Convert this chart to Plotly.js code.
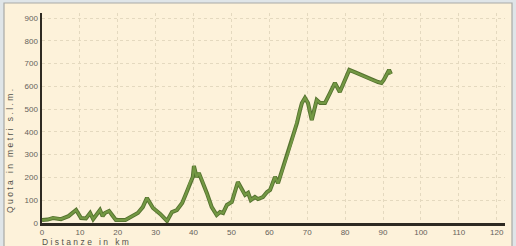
<!DOCTYPE html>
<html><head><meta charset="utf-8">
<script src="https://cdn.plot.ly/plotly-3.0.1.min.js"></script>
<style>
html,body{margin:0;padding:0;background:#dfe5e8;}
#chart{width:516px;height:246px;}
.annotation-text{letter-spacing:2.4px;}
</style></head><body>
<div id="chart"></div>
<script>
var distanceKm = [0, 1.5, 2.9, 5, 7, 9, 10.3, 11.6, 12.7, 13.5, 15.3, 16, 16.6, 17.7, 18.5, 19.5, 22, 23.5, 25.3, 26.6, 27.7, 29.3, 31.2, 33, 34.3, 35.6, 37, 38.2, 39, 39.8, 40.1, 40.8, 41.4, 42.2, 43.5, 44.8, 46.1, 47, 47.8, 48.8, 50.1, 51.7, 52.8, 53.6, 54.4, 55.1, 56.2, 57, 58.3, 59.4, 60.2, 61.5, 62.3, 63.6, 64.6, 66, 67.3, 68.1, 68.6, 69.4, 70.2, 71.2, 72, 72.5, 73.4, 74.7, 76, 77.3, 78.6, 80, 81.1, 82.7, 84.2, 85.2, 87.2, 88.7, 89.6, 90.2, 91.6, 92.1];
var altitudeM = [13, 15, 22, 17, 30, 57, 22, 20, 44, 17, 57, 30, 44, 53, 35, 13, 13, 26, 44, 70, 110, 66, 40, 9, 48, 57, 88, 136, 175, 202, 250, 202, 220, 189, 132, 70, 35, 48, 44, 79, 92, 180, 145, 123, 132, 101, 114, 105, 114, 136, 145, 202, 175, 246, 290, 364, 439, 496, 527, 549, 527, 452, 509, 540, 527, 527, 570, 615, 575, 628, 672, 661, 650, 641, 628, 619, 615, 628, 672, 654];
var xTicks = [0, 10, 20, 30, 40, 50, 60, 70, 80, 90, 100, 110, 120];
var yTicks = [0, 100, 200, 300, 400, 500, 600, 700, 800, 900];
var xTitle = 'Distanze in km';
var yTitle = 'Quota in metri s.l.m.';

var plotW = 463, plotH = 210;
var traces = [
  {x: distanceKm, y: altitudeM, mode: 'lines', line: {color: '#55722f', width: 4}, hoverinfo: 'skip'},
  {x: distanceKm, y: altitudeM, mode: 'lines', line: {color: '#739843', width: 2.2}, hoverinfo: 'skip'}
];
var tickFont = {family: 'Liberation Sans, Arial, sans-serif', size: 8, color: '#66625a'};
var layout = {
  width: 516, height: 246,
  margin: {l: 42, r: 11, t: 13, b: 23, pad: 0},
  paper_bgcolor: '#dfe5e8',
  plot_bgcolor: '#fdf2da',
  showlegend: false,
  xaxis: {range: [0, 122.2], tickvals: xTicks, ticktext: xTicks.map(String), showgrid: true,
    gridcolor: '#e4d9bf', griddash: 'dot', gridwidth: 1, zeroline: false,
    showline: true, linecolor: '#2e2a22', linewidth: 2.5, ticks: '', ticklen: 0,
    tickfont: tickFont, fixedrange: true},
  yaxis: {range: [0, 922], tickvals: yTicks, ticktext: yTicks.map(String), showgrid: true,
    gridcolor: '#e4d9bf', griddash: 'dot', gridwidth: 1, zeroline: false,
    showline: true, linecolor: '#2e2a22', linewidth: 2.5, ticks: '', ticklen: 0,
    tickfont: tickFont, fixedrange: true},
  shapes: [
    {type: 'rect', xref: 'paper', yref: 'paper', layer: 'below',
     x0: -38 / plotW, x1: 1 + 7 / plotW, y0: -26 / plotH, y1: 1 + 10 / plotH,
     fillcolor: '#fdf2da', line: {color: '#a9a9a6', width: 1.2}}
  ],
  annotations: [
    {xref: 'paper', yref: 'paper', x: -2 / plotW, y: -19 / plotH, xanchor: 'left', yanchor: 'middle',
     text: xTitle, showarrow: false, font: {family: 'Liberation Sans, Arial, sans-serif', size: 8.5, color: '#55524a'}},
    {xref: 'paper', yref: 'paper', x: -32 / plotW, y: 8 / plotH, xanchor: 'center', yanchor: 'bottom', textangle: -90,
     text: yTitle, showarrow: false, font: {family: 'Liberation Sans, Arial, sans-serif', size: 8.5, color: '#55524a'}}
  ]
};
Plotly.newPlot('chart', traces, layout, {staticPlot: true, displayModeBar: false});
</script>
</body></html>
